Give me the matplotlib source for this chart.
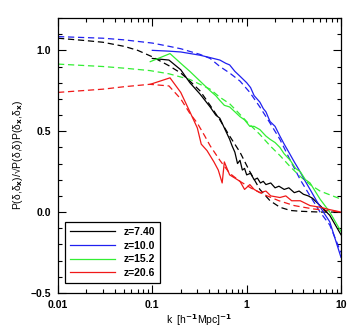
import numpy as np
import matplotlib
matplotlib.use('Agg')
import matplotlib.pyplot as plt
from matplotlib.ticker import FixedLocator, MultipleLocator, NullFormatter

plt.rcParams['font.family'] = ['Liberation Sans', 'DejaVu Sans']
plt.rcParams['font.weight'] = 'bold'
plt.rcParams['mathtext.default'] = 'bf'

# redshift labels and colours
labels = ['z=7.40', 'z=10.0', 'z=15.2', 'z=20.6']
colors = ['black', '#2020f0', '#33ee33', '#f01818']

# simulation (solid) curves
k_z74 = [0.10, 0.15, 0.20, 0.25, 0.32, 0.41, 0.47, 0.52, 0.58, 0.66, 0.70, 0.75, 0.80,
         0.85, 0.90, 0.95, 1.0, 1.1, 1.2, 1.3, 1.4, 1.5, 1.6, 1.8, 2.0, 2.2, 2.5, 2.8,
         3.2, 3.6, 4.0, 4.5, 5.0, 6.0, 7.6, 10.0]
r_z74 = [0.95, 0.94, 0.88, 0.80, 0.73, 0.65, 0.60, 0.58, 0.52, 0.45, 0.41, 0.37, 0.30,
         0.32, 0.26, 0.27, 0.23, 0.24, 0.20, 0.21, 0.18, 0.19, 0.17, 0.18, 0.15, 0.16,
         0.14, 0.15, 0.12, 0.13, 0.11, 0.10, 0.085, 0.04, -0.02, -0.14]

k_z10 = [0.10, 0.15, 0.20, 0.32, 0.41, 0.52, 0.60, 0.66, 0.75, 0.85, 1.0, 1.1, 1.2,
         1.38, 1.5, 1.6, 1.77, 2.0, 2.25, 2.5, 2.8, 3.2, 3.6, 4.0, 4.7, 5.5, 6.5, 7.6, 10.0]
r_z10 = [1.0, 0.995, 0.99, 0.97, 0.955, 0.94, 0.92, 0.91, 0.87, 0.84, 0.80, 0.77, 0.72,
         0.68, 0.64, 0.62, 0.56, 0.53, 0.47, 0.42, 0.37, 0.31, 0.26, 0.21, 0.14, 0.07,
         0.0, -0.06, -0.28]

k_z15 = [0.095, 0.154, 0.20, 0.25, 0.32, 0.41, 0.47, 0.52, 0.58, 0.66, 0.75, 0.85, 0.95,
         1.08, 1.2, 1.38, 1.6, 1.77, 2.0, 2.25, 2.5, 2.9, 3.3, 3.7, 4.2, 4.7, 6.0, 7.6, 10.0]
r_z15 = [0.93, 0.98, 0.92, 0.87, 0.81, 0.75, 0.72, 0.69, 0.66, 0.65, 0.62, 0.59, 0.57,
         0.53, 0.53, 0.51, 0.47, 0.45, 0.43, 0.40, 0.36, 0.32, 0.27, 0.25, 0.20, 0.18,
         0.08, 0.0, -0.12]

k_z20 = [0.095, 0.154, 0.20, 0.25, 0.30, 0.33, 0.38, 0.45, 0.50, 0.55, 0.58, 0.66, 0.75,
         0.85, 0.95, 1.08, 1.2, 1.38, 1.6, 1.8, 2.25, 2.6, 3.0, 3.7, 4.7, 6.0, 7.6, 10.0]
r_z20 = [0.79, 0.83, 0.74, 0.62, 0.52, 0.42, 0.38, 0.31, 0.26, 0.18, 0.31, 0.23, 0.21,
         0.19, 0.14, 0.17, 0.14, 0.12, 0.13, 0.10, 0.09, 0.10, 0.07, 0.07, 0.04, 0.03,
         0.015, 0.0]

# model (dashed) curves
km_z74 = [0.01, 0.02, 0.03, 0.05, 0.07, 0.1, 0.15, 0.2, 0.25, 0.32, 0.41, 0.52, 0.66,
          0.85, 1.08, 1.38, 1.77, 2.25, 2.9, 3.7, 6.0, 10.0]
m_z74 = [1.075, 1.06, 1.05, 1.025, 1.0, 0.96, 0.905, 0.86, 0.81, 0.75, 0.66, 0.57, 0.47,
         0.37, 0.25, 0.14, 0.07, 0.03, 0.01, 0.005, 0.0, 0.0]

km_z10 = [0.01, 0.03, 0.05, 0.1, 0.15, 0.2, 0.32, 0.41, 0.52, 0.66, 0.85, 1.08, 1.38,
          1.77, 2.25, 2.9, 3.7, 4.7, 6.0, 7.6, 10.0]
m_z10 = [1.085, 1.075, 1.065, 1.045, 1.025, 1.01, 0.975, 0.95, 0.90, 0.86, 0.81, 0.74,
         0.65, 0.55, 0.45, 0.32, 0.20, 0.10, 0.0, -0.08, -0.25]

km_z15 = [0.01, 0.03, 0.05, 0.094, 0.15, 0.25, 0.41, 0.52, 0.66, 0.8, 1.0, 1.38, 1.77,
          2.25, 2.9, 3.7, 4.7, 6.0, 10.0]
m_z15 = [0.915, 0.90, 0.89, 0.875, 0.855, 0.82, 0.76, 0.71, 0.67, 0.62, 0.56, 0.48, 0.41,
         0.35, 0.28, 0.22, 0.17, 0.13, 0.08]

km_z20 = [0.01, 0.03, 0.05, 0.094, 0.15, 0.2, 0.25, 0.30, 0.36, 0.41, 0.52, 0.66, 0.85,
          1.1, 1.5, 2.2, 3.2, 5.0, 10.0]
m_z20 = [0.74, 0.76, 0.775, 0.79, 0.78, 0.70, 0.61, 0.55, 0.47, 0.41, 0.32, 0.24, 0.19,
         0.15, 0.11, 0.07, 0.04, 0.02, 0.0]

sims = [(k_z74, r_z74), (k_z10, r_z10), (k_z15, r_z15), (k_z20, r_z20)]
models = [(km_z74, m_z74), (km_z10, m_z10), (km_z15, m_z15), (km_z20, m_z20)]

fig = plt.figure(figsize=(3.58, 3.31), dpi=100)
ax = fig.add_axes([0.162, 0.115, 0.7905, 0.8306])

for (km, m), c in zip(models, colors):
    ax.plot(km, m, color=c, lw=0.9, ls=(0, (5, 3)))
for (k, r), c, lab in zip(sims, colors, labels):
    ax.plot(k, r, color=c, lw=0.9, label=lab)

ax.set_xscale('log')
ax.set_xlim(0.01, 10)
ax.set_ylim(-0.5, 1.2)

ax.set_xticks([0.01, 0.1, 1, 10])
ax.set_xticklabels(['0.01', '0.1', '1', '10'])
ax.xaxis.set_minor_formatter(NullFormatter())
ax.yaxis.set_major_locator(FixedLocator([-0.5, 0.0, 0.5, 1.0]))
ax.set_yticklabels(['\u22120.5', '0.0', '0.5', '1.0'])
ax.yaxis.set_minor_locator(MultipleLocator(0.1))

ax.tick_params(which='both', direction='in', top=True, right=True, labelsize=7.5, width=0.8)
ax.tick_params(which='major', length=6, pad=5)
ax.tick_params(which='minor', length=3)
for s in ax.spines.values():
    s.set_linewidth(0.9)

ax.set_xlabel(r'k  [h$^{-1}$Mpc]$^{-1}$', fontsize=7.5, labelpad=1.5)
ax.set_ylabel('P(\u03b4,\u03b4$_x$)/\u221aP(\u03b4,\u03b4)P(\u03b4$_x$,\u03b4$_x$)',
              fontsize=7.5, labelpad=4)

leg = ax.legend(loc='lower left', bbox_to_anchor=(0.025, 0.036), borderaxespad=0,
                fontsize=7.5, handlelength=4.3, markerfirst=True, fancybox=False,
                edgecolor='black', framealpha=1, labelspacing=0.35, borderpad=0.5,
                handletextpad=0.8)
leg.get_frame().set_linewidth(0.9)

fig.savefig('out.png', dpi=100)
